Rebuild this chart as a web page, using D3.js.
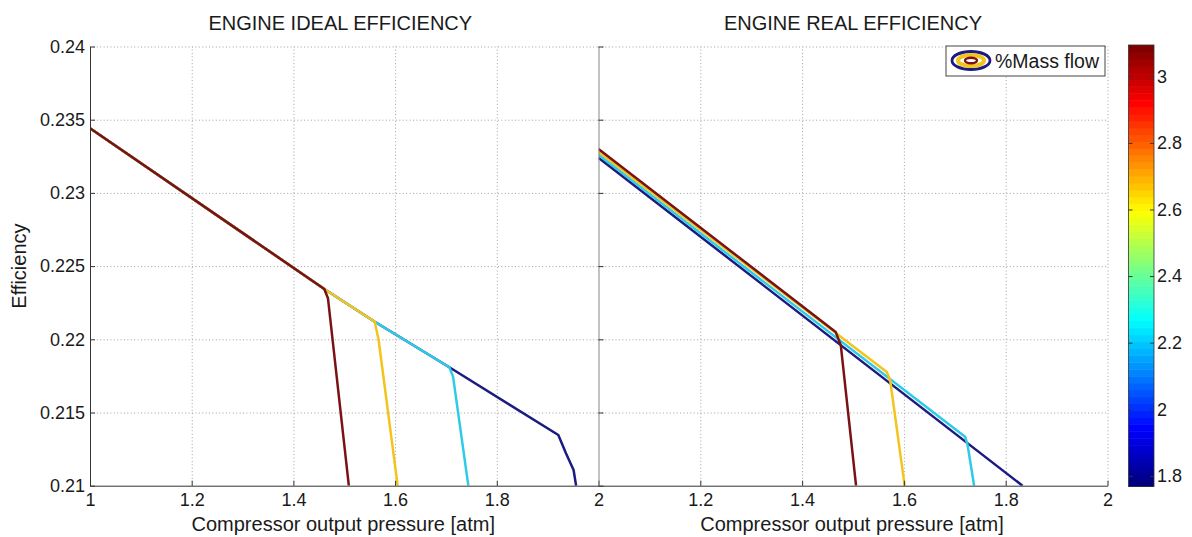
<!DOCTYPE html>
<html>
  <head>
    <meta charset="utf-8">
    <script src="https://d3js.org/d3.v7.min.js"></script>
    <title>Engine efficiency</title>
    <style>
      body { margin: 0px; background: #fff; }
      text { font-family: 'Liberation Sans', Arial, sans-serif; fill: #1a1a1a; }
      .tick text { font-size: 18px; }
      .grid .tick line { stroke: #a0a0a0; stroke-dasharray: 1,2.4; }
      .grid .domain { display: none; }
      .axis .tick line { stroke: #333; }
      .title, .axis-label { font-size: 20px; }
      .legend-label { font-size: 19.5px; }
    </style>
  </head>
  <body>
    <svg width="1192" height="537"></svg>
    <script>
      // tick values
      const xTicks = [1, 1.2, 1.4, 1.6, 1.8, 2];
      const yTicks = [0.21, 0.215, 0.22, 0.225, 0.23, 0.235, 0.24];
      const cbTicks = [1.8, 2, 2.2, 2.4, 2.6, 2.8, 3];
      const massFlowRange = [1.768, 3.094];

      // series keys, drawn in this order (lowest mass flow at the bottom of the stack)
      const seriesKeys = ['lowest', 'low', 'high', 'highest'];

      // ideal efficiency: [pressure, efficiency]
      const idealLowest  = [[1, 0.23441], [1.4607, 0.22344], [1.560, 0.2212], [1.7067, 0.21809],
                            [1.921, 0.21346], [1.936, 0.21221], [1.951, 0.21107], [1.956, 0.21]];
      const idealLow     = [[1, 0.23441], [1.4607, 0.22344], [1.560, 0.2212], [1.7067, 0.21809],
                            [1.714, 0.21745], [1.744, 0.21]];
      const idealHigh    = [[1, 0.23441], [1.4607, 0.22344], [1.560, 0.2212], [1.5676, 0.21995], [1.605, 0.21]];
      const idealHighest = [[1, 0.23441], [1.4607, 0.22344], [1.468, 0.2228], [1.509, 0.21]];

      // real efficiency
      const realLowest  = [[1, 0.2324], [1.833, 0.21]];
      const realLow     = [[1, 0.2326], [1.7202, 0.21335], [1.725, 0.2128], [1.738, 0.21]];
      const realHigh    = [[1, 0.2328], [1.5664, 0.21777], [1.573, 0.2172], [1.6015, 0.21]];
      const realHighest = [[1, 0.2330], [1.466, 0.2205], [1.476, 0.2196], [1.506, 0.21]];

      const lineColors = ['#1b1b80', '#2ecbe8', '#f2c41c', '#7a1214'];

      const svg = d3.select('svg');
      const plotTop = 46.5, plotBottom = 485.7;
      const panels = [
        { title: 'ENGINE IDEAL EFFICIENCY', x0: 90, x1: 598.5, data: [idealLowest, idealLow, idealHigh, idealHighest], labels: true },
        { title: 'ENGINE REAL EFFICIENCY', x0: 598.5, x1: 1107.5, data: [realLowest, realLow, realHigh, realHighest], labels: false }
      ];

      const yScale = d3.scaleLinear().domain([0.21, 0.24]).range([plotBottom, plotTop]);
      const colorScale = d3.scaleOrdinal().domain(seriesKeys).range(lineColors);

      panels.forEach((p, i) => {
        const xScale = d3.scaleLinear().domain([1, 2]).range([p.x0, p.x1]);
        const w = p.x1 - p.x0;
        const g = svg.append('g');

        // grid
        g.append('g').attr('class', 'grid')
          .attr('transform', `translate(0,${plotBottom})`)
          .call(d3.axisBottom(xScale).tickValues(xTicks.slice(1, i === 0 ? 5 : 6)).tickSize(-(plotBottom - plotTop)).tickFormat(''));
        g.append('g').attr('class', 'grid')
          .attr('transform', `translate(${p.x0},0)`)
          .call(d3.axisLeft(yScale).tickValues(yTicks.slice(1)).tickSize(-w).tickFormat(''));

        // clipped lines
        svg.append('clipPath').attr('id', 'clip' + i)
          .append('rect').attr('x', p.x0).attr('y', plotTop).attr('width', w).attr('height', plotBottom - plotTop);
        const line = d3.line().x(d => xScale(d[0])).y(d => yScale(d[1]));
        g.append('g').attr('clip-path', `url(#clip${i})`)
          .selectAll('path').data(p.data)
          .enter().append('path')
            .attr('d', line)
            .attr('fill', 'none')
            .attr('stroke', (d, k) => colorScale(seriesKeys[k]))
            .attr('stroke-width', 2.5)
            .attr('stroke-linejoin', 'round');

        // axes
        const xAxisG = g.append('g').attr('class', 'axis')
          .attr('transform', `translate(0,${plotBottom})`)
          .call(d3.axisBottom(xScale).tickValues(i === 0 ? xTicks : xTicks.slice(1))
            .tickSizeInner(-5).tickSizeOuter(0).tickPadding(8).tickFormat(d3.format('')));
        xAxisG.select('.domain').attr('stroke', '#333');

        const yAxisG = g.append('g').attr('class', 'axis')
          .attr('transform', `translate(${p.x0},0)`)
          .call(d3.axisLeft(yScale).tickValues(yTicks)
            .tickSizeInner(-5).tickSizeOuter(0).tickPadding(5)
            .tickFormat(p.labels ? d3.format('') : ''));
        yAxisG.select('.domain').attr('stroke', p.labels ? '#333' : '#858585');

        svg.append('text')
          .attr('class', 'title')
          .attr('x', (p.x0 + p.x1) / 2 - (i === 0 ? 4 : 0))
          .attr('y', 30)
          .attr('text-anchor', 'middle')
          .text(p.title);

        svg.append('text')
          .attr('class', 'axis-label')
          .attr('x', (p.x0 + p.x1) / 2 - 1)
          .attr('y', 531)
          .attr('text-anchor', 'middle')
          .text('Compressor output pressure [atm]');
      });

      svg.append('text')
        .attr('class', 'axis-label')
        .attr('transform', `translate(26,${(plotTop + plotBottom) / 2}) rotate(-90)`)
        .attr('text-anchor', 'middle')
        .text('Efficiency');

      // legend
      const legendG = svg.append('g').attr('transform', 'translate(946,46)');
      legendG.append('rect')
        .attr('width', 159).attr('height', 30)
        .attr('fill', '#fff').attr('stroke', '#444').attr('stroke-width', 1);
      legendG.append('ellipse').attr('cx', 25).attr('cy', 14.5).attr('rx', 19).attr('ry', 9)
        .attr('fill', 'none').attr('stroke', lineColors[0]).attr('stroke-width', 2.8);
      legendG.append('ellipse').attr('cx', 25).attr('cy', 14.5).attr('rx', 13).attr('ry', 5.5)
        .attr('fill', 'none').attr('stroke', lineColors[2]).attr('stroke-width', 4);
      legendG.append('ellipse').attr('cx', 25).attr('cy', 14.5).attr('rx', 6).attr('ry', 2.8)
        .attr('fill', 'none').attr('stroke', lineColors[3]).attr('stroke-width', 2.4);
      legendG.append('text')
        .attr('class', 'legend-label')
        .attr('x', 49).attr('y', 21.5)
        .text('%Mass flow');

      // colorbar (jet colormap)
      const jet = t => {
        const c = v => Math.round(255 * Math.max(0, Math.min(1, 1.5 - Math.abs(4 * t - v))));
        return `rgb(${c(3)},${c(2)},${c(1)})`;
      };
      const cbX = 1128.5, cbW = 25.5;
      const cbScale = d3.scaleLinear().domain(massFlowRange).range([486.5, 45]);
      const steps = d3.range(64);
      const stepH = (486.5 - 45) / 64;
      svg.append('g').selectAll('rect').data(steps)
        .enter().append('rect')
          .attr('x', cbX)
          .attr('y', d => 486.5 - (d + 1) * stepH)
          .attr('width', cbW)
          .attr('height', stepH + 0.5)
          .attr('fill', d => jet(d / 63));
      svg.append('rect')
        .attr('x', cbX).attr('y', 45).attr('width', cbW).attr('height', 441.5)
        .attr('fill', 'none').attr('stroke', '#333').attr('stroke-width', 0.8);
      const cbAxisG = svg.append('g').attr('class', 'axis')
        .attr('transform', `translate(${cbX + cbW},0)`)
        .call(d3.axisRight(cbScale).tickValues(cbTicks).tickSizeInner(-4).tickSizeOuter(0).tickPadding(3).tickFormat(d3.format('')));
      cbAxisG.select('.domain').remove();
      cbAxisG.selectAll('.tick').append('line')
        .attr('x1', -cbW).attr('x2', -cbW + 4).attr('stroke', '#333');
    </script>
  </body>
</html>
